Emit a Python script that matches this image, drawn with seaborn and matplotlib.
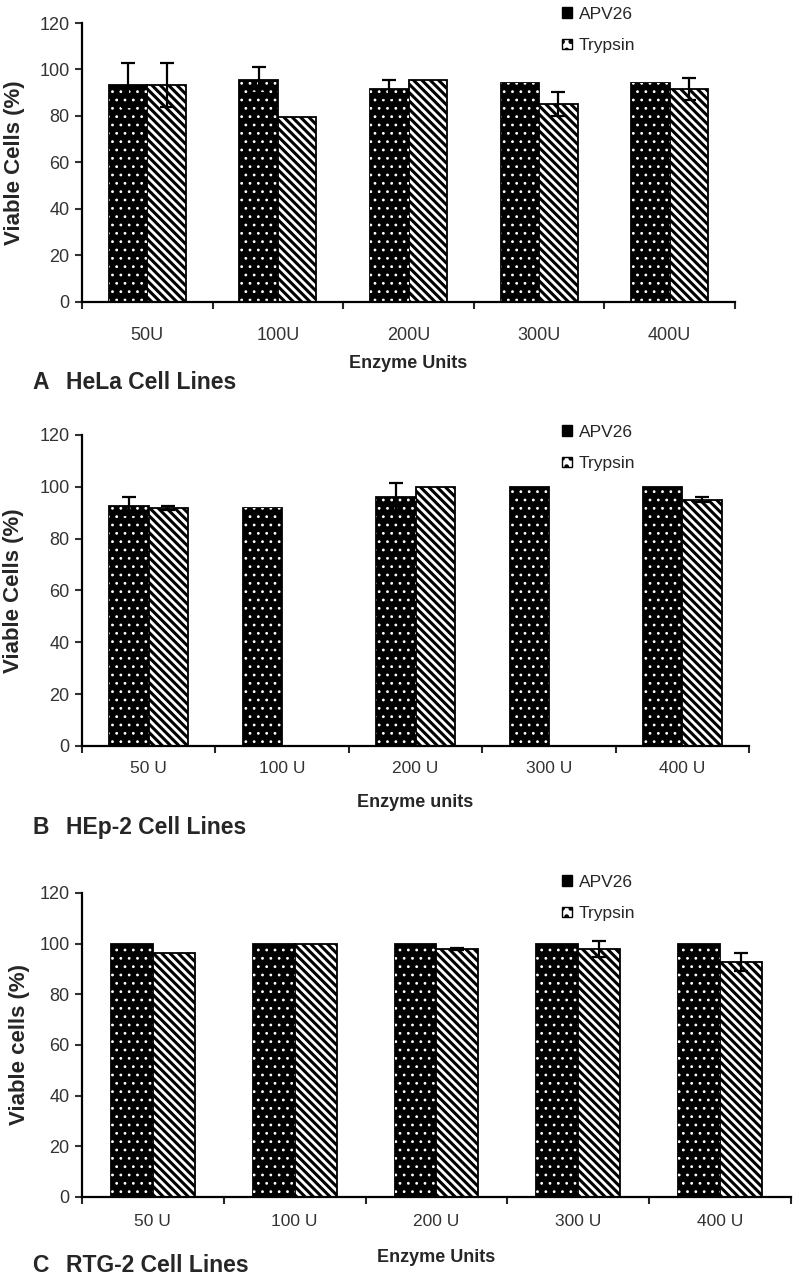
import numpy as np
import pandas as pd
import matplotlib
matplotlib.use("Agg")
import matplotlib.pyplot as plt
from matplotlib.patches import Patch, Rectangle
import seaborn as sns

sns.set_style("ticks")
plt.rcParams['font.family'] = ['Liberation Sans', 'DejaVu Sans']
plt.rcParams['hatch.linewidth'] = 2.2

# data (viable cells %, mean and SD)
enzymes = ["APV26", "Trypsin"]
units_a = ["50U", "100U", "200U", "300U", "400U"]
units_bc = ["50 U", "100 U", "200 U", "300 U", "400 U"]

hela_apv = [93.3, 95.5, 91.6, 94.2, 94.2]
hela_apv_err = [9.5, 5.5, 3.9, 0, 0]
hela_tryp = [93.3, 79.6, 95.5, 85.2, 91.6]
hela_tryp_err = [9.5, 0, 0, 5.1, 4.7]

hep2_apv = [92.7, 91.8, 96.1, 100, 100]
hep2_apv_err = [3.4, 0, 5.4, 0, 0]
hep2_tryp = [91.9, np.nan, 100, np.nan, 95.0]
hep2_tryp_err = [0.8, 0, 0, 0, 1.0]

rtg2_apv = [100, 100, 100, 100, 100]
rtg2_apv_err = [0, 0, 0, 0, 0]
rtg2_tryp = [96.3, 100, 97.9, 97.9, 92.8]
rtg2_tryp_err = [0, 0, 0.5, 3.3, 3.6]

STRIPES = '\\\\\\\\'

fig = plt.figure(figsize=(7.96, 12.85), dpi=100)


def draw_panel(rect, units, apv, apv_err, tryp, tryp_err, ylabel, xlabel,
               letter, title, title_y, legend_y, tick_fs, tick_pad, ylab_x, xlab_y):
    ax = fig.add_axes(rect)
    df = pd.DataFrame({
        "units": units * 2,
        "enzyme": [enzymes[0]] * len(units) + [enzymes[1]] * len(units),
        "viable": list(apv) + list(tryp),
    }).dropna()
    sns.barplot(data=df, x="units", y="viable", hue="enzyme", order=units,
                hue_order=enzymes, palette=["black", "white"], saturation=1,
                width=0.59, errorbar=None, edgecolor="black", linewidth=1.3,
                legend=False, ax=ax)

    errs = [apv_err, tryp_err]
    bar_conts = list(ax.containers)
    for k, cont in enumerate(bar_conts):
        for bar in cont:
            cx = bar.get_x() + bar.get_width() / 2
            h = bar.get_height()
            if k == 0:
                # white dots on the black bars
                dots = Rectangle((bar.get_x(), bar.get_y()), bar.get_width(), h,
                                 fill=False, hatch='..', edgecolor='white',
                                 linewidth=0, zorder=bar.get_zorder() + 0.1)
                if hasattr(dots, "set_hatch_linewidth"):
                    dots.set_hatch_linewidth(0.8)
                ax.add_patch(dots)
            else:
                bar.set_hatch(STRIPES)
                if hasattr(bar, "set_hatch_linewidth"):
                    bar.set_hatch_linewidth(2.2)
            e = errs[k][int(round(cx))]
            if e > 0:
                ax.errorbar(cx, h, yerr=e, fmt='none', ecolor='black',
                            elinewidth=1.6, capsize=5, capthick=1.6, zorder=5)

    ax.set_ylim(0, 120)
    ax.set_xlim(-0.5, len(units) - 0.5)
    ax.set_yticks(range(0, 121, 20))
    ax.set_xticks(range(len(units)))
    ax.set_xticklabels(units, fontsize=tick_fs)
    ax.set_xticks(np.arange(-0.5, len(units), 1.0), minor=True)
    ax.tick_params(axis='x', which='major', length=0, pad=tick_pad, colors='#333333')
    ax.tick_params(axis='x', which='minor', length=5, width=1.5, direction='out')
    ax.tick_params(axis='y', length=5, width=1.5, direction='out', labelsize=13,
                   pad=4, colors='#333333')
    for s in ['left', 'bottom']:
        ax.spines[s].set_linewidth(1.6)
        ax.spines[s].set_color('black')
    sns.despine(ax=ax)

    ax.set_ylabel(ylabel, fontsize=16, fontweight='bold')
    ax.yaxis.set_label_coords(ylab_x, 0.5)
    ax.set_xlabel(xlabel, fontsize=13, fontweight='bold')
    ax.xaxis.set_label_coords(0.5, xlab_y)

    handles = [Patch(facecolor='black', edgecolor='black'),
               Patch(facecolor='white', edgecolor='black', hatch='..')]
    fig.legend(handles, enzymes, loc='upper left',
               bbox_to_anchor=(553 / 796, 1 - legend_y / 1285),
               frameon=False, fontsize=12.5, handlelength=0.6, handleheight=0.55,
               handletextpad=0.4, labelspacing=0.95, borderpad=0)

    fig.text(32 / 796, 1 - title_y / 1285, letter, fontsize=16.5, fontweight='bold',
             va='baseline')
    fig.text(66 / 796, 1 - title_y / 1285, title, fontsize=16.5, fontweight='bold',
             va='baseline')
    return ax


draw_panel([0.103, 0.765, 0.8204, 0.2171], units_a, hela_apv, hela_apv_err,
           hela_tryp, hela_tryp_err, "Viable Cells (%)", "Enzyme Units",
           "A", "HeLa Cell Lines", 389, -2, 13, 18, -0.087, -0.19)

draw_panel([0.103, 0.4195, 0.838, 0.242], units_bc, hep2_apv, hep2_apv_err,
           hep2_tryp, hep2_tryp_err, "Viable Cells (%)", "Enzyme units",
           "B", "HEp-2 Cell Lines", 834, 416, 12.5, 11, -0.087, -0.154)

draw_panel([0.103, 0.0685, 0.8907, 0.2366], units_bc, rtg2_apv, rtg2_apv_err,
           rtg2_tryp, rtg2_tryp_err, "Viable cells (%)", "Enzyme Units",
           "C", "RTG-2 Cell Lines", 1272, 866, 12.5, 12, -0.073, -0.171)

fig.savefig("out.png", dpi=100)
